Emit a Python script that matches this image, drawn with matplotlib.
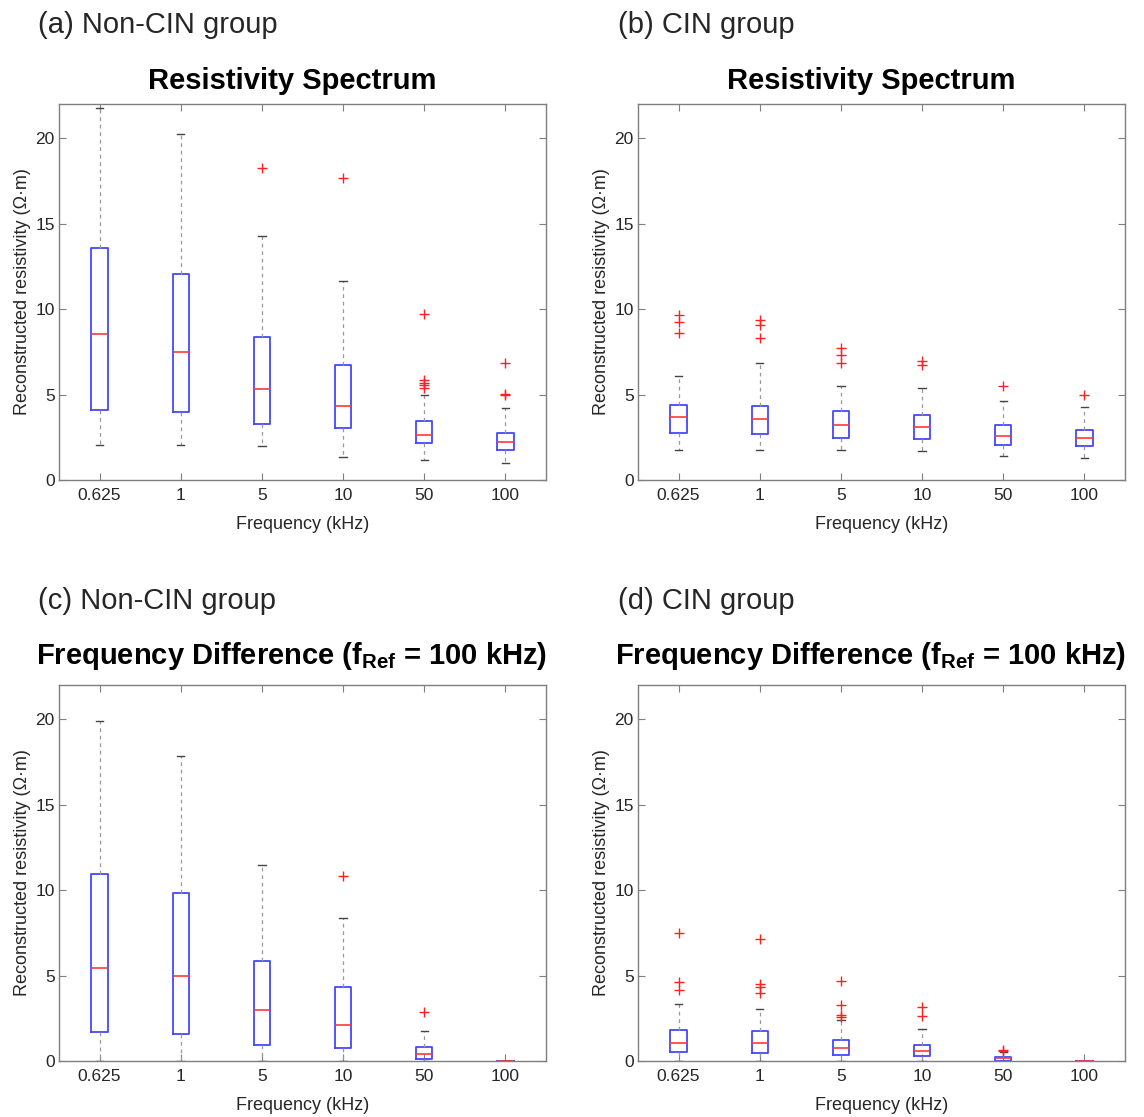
"""Boxplots of reconstructed resistivity (Non-CIN vs CIN groups)."""

import matplotlib

matplotlib.use("Agg")
import matplotlib.pyplot as plt

plt.rcParams["font.family"] = ["Liberation Sans", "DejaVu Sans"]
plt.rcParams["mathtext.fontset"] = "custom"
plt.rcParams["mathtext.rm"] = "Liberation Sans"
plt.rcParams["mathtext.bf"] = "Liberation Sans:bold"

FREQ_LABELS = ["0.625", "1", "5", "10", "50", "100"]

# (a) Non-CIN, resistivity spectrum
A_MED = [8.55, 7.5, 5.33, 4.34, 2.66, 2.25]
A_Q1 = [4.07, 3.97, 3.28, 3.06, 2.19, 1.74]
A_Q3 = [13.55, 12.05, 8.35, 6.72, 3.47, 2.77]
A_LO = [2.03, 2.02, 1.98, 1.32, 1.18, 0.97]
A_HI = [21.78, 20.27, 14.26, 11.67, 5.0, 4.2]
A_OUT = [[], [], [18.27], [17.65], [9.71, 5.85, 5.7, 5.54, 5.39], [6.84, 5.04, 4.98]]

# (b) CIN, resistivity spectrum
B_MED = [3.68, 3.59, 3.22, 3.10, 2.58, 2.46]
B_Q1 = [2.73, 2.67, 2.48, 2.42, 2.07, 1.98]
B_Q3 = [4.40, 4.34, 4.03, 3.78, 3.22, 2.93]
B_LO = [1.74, 1.74, 1.74, 1.69, 1.41, 1.26]
B_HI = [6.09, 6.82, 5.52, 5.39, 4.65, 4.26]
B_OUT = [[9.65, 9.22, 8.59], [9.34, 9.05, 8.33], [7.71, 7.31, 6.82],
         [6.94, 6.7], [5.47], [4.98]]

# (c) Non-CIN, frequency difference
C_MED = [5.46, 4.95, 2.97, 2.08, 0.41, 0.0]
C_Q1 = [1.71, 1.61, 0.91, 0.76, 0.14, 0.0]
C_Q3 = [10.95, 9.81, 5.84, 4.31, 0.80, 0.0]
C_LO = [0.0, 0.0, 0.0, 0.0, 0.0, 0.0]
C_HI = [19.9, 17.86, 11.46, 8.37, 1.73, 0.0]
C_OUT = [[], [], [], [10.8], [2.87], []]

# (d) CIN, frequency difference
D_MED = [1.07, 1.03, 0.74, 0.56, 0.16, 0.0]
D_Q1 = [0.51, 0.45, 0.35, 0.27, 0.02, 0.0]
D_Q3 = [1.81, 1.75, 1.21, 0.93, 0.25, 0.0]
D_LO = [0.0, 0.02, 0.0, 0.0, 0.0, 0.0]
D_HI = [3.35, 3.05, 2.41, 1.87, 0.54, 0.0]
D_OUT = [[7.49, 4.61, 4.18], [7.12, 4.53, 4.34, 3.99],
         [4.69, 3.27, 2.68, 2.59], [3.19, 2.63], [0.66, 0.6], []]

PANELS = [
    ("(a) Non-CIN group", "Resistivity Spectrum", A_MED, A_Q1, A_Q3, A_LO, A_HI, A_OUT),
    ("(b) CIN group", "Resistivity Spectrum", B_MED, B_Q1, B_Q3, B_LO, B_HI, B_OUT),
    ("(c) Non-CIN group", r"Frequency Difference (f$_{\mathbf{Ref}}$ = 100 kHz)",
     C_MED, C_Q1, C_Q3, C_LO, C_HI, C_OUT),
    ("(d) CIN group", r"Frequency Difference (f$_{\mathbf{Ref}}$ = 100 kHz)",
     D_MED, D_Q1, D_Q3, D_LO, D_HI, D_OUT),
]

AXES_RECTS = [
    (0.0516, 0.5703, 0.4257, 0.3366),
    (0.5577, 0.5703, 0.4257, 0.3366),
    (0.0516, 0.0501, 0.4257, 0.3366),
    (0.5577, 0.0501, 0.4257, 0.3366),
]
LABEL_POS = [(0.033, 0.978), (0.540, 0.978), (0.033, 0.462), (0.540, 0.462)]
TITLE_PAD = [11, 11, 15, 15]

AXIS_GREY = "#7f7f7f"
TEXT_GREY = "#262626"


def _stats(med, q1, q3, lo, hi, out):
    return [
        {"med": m, "q1": a, "q3": b, "whislo": l, "whishi": h, "fliers": f}
        for m, a, b, l, h, f in zip(med, q1, q3, lo, hi, out)
    ]


fig = plt.figure(figsize=(11.44, 11.17), dpi=100)

for rect, label_pos, pad, panel in zip(AXES_RECTS, LABEL_POS, TITLE_PAD, PANELS):
    label, title, med, q1, q3, lo, hi, out = panel
    ax = fig.add_axes(rect)
    ax.bxp(
        _stats(med, q1, q3, lo, hi, out),
        positions=range(1, len(FREQ_LABELS) + 1),
        widths=0.2,
        capwidths=0.09,
        boxprops={"color": "#4646ff", "linewidth": 1.3},
        medianprops={"color": "#ff3a3a", "linewidth": 1.2},
        whiskerprops={"color": "#999999", "linewidth": 0.9, "linestyle": (0, (3, 3))},
        capprops={"color": "#444444", "linewidth": 1.0},
        flierprops={"marker": "+", "markeredgecolor": "#ff2020",
                    "markersize": 7.5, "markeredgewidth": 1.0, "linestyle": "none"},
    )
    ax.set_xlim(0.5, 6.5)
    ax.set_ylim(0, 22)
    ax.set_yticks([0, 5, 10, 15, 20])
    ax.set_xticks(range(1, 7), FREQ_LABELS)
    ax.tick_params(direction="in", top=True, right=True, length=5,
                   color=AXIS_GREY, labelsize=12.5, labelcolor=TEXT_GREY)
    ax.tick_params(axis="x", pad=6)
    ax.tick_params(axis="y", pad=3)
    for spine in ax.spines.values():
        spine.set_color(AXIS_GREY)
        spine.set_linewidth(1.0)
    ax.set_xlabel("Frequency (kHz)", fontsize=13, color=TEXT_GREY, labelpad=9)
    ax.set_ylabel("Reconstructed resistivity (Ω·m)", fontsize=13,
                  color=TEXT_GREY, labelpad=3)
    ax.set_title(title, fontsize=21, fontweight="bold", pad=pad, x=0.478)
    fig.text(label_pos[0], label_pos[1], label, fontsize=21,
             ha="left", va="center", color=TEXT_GREY)

fig.savefig("out.png", dpi=100)
